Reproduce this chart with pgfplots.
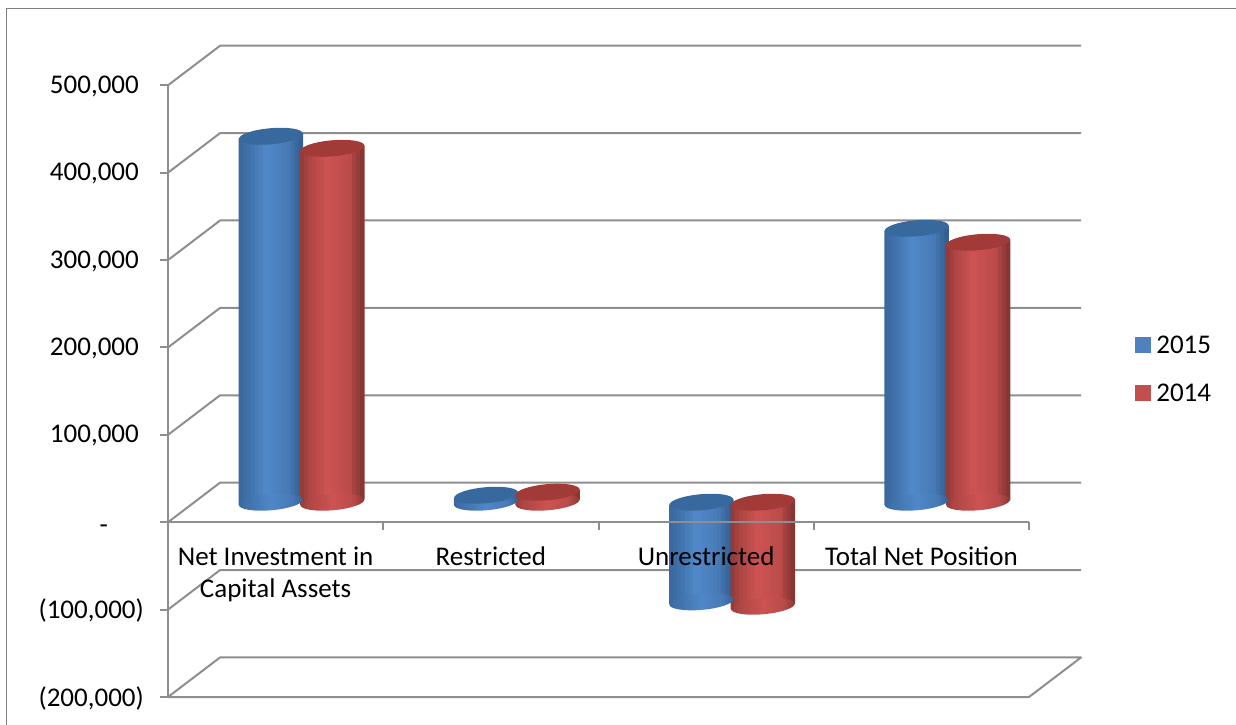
\documentclass[border=0pt]{standalone}
\usepackage{pgfplots}
\usepackage{pgfplotstable}
\usepackage{fontspec}
\setmainfont{Carlito}
\pgfplotsset{compat=1.18}
\definecolor{wall}{HTML}{8E8E8E}
\definecolor{bl}{HTML}{4F81BD}
\definecolor{rd}{HTML}{C0504D}
\definecolor{capblue}{HTML}{37699F}
\definecolor{capred}{HTML}{A23A38}
\definecolor{ba}{HTML}{3A699E}\definecolor{bb}{HTML}{3F71AA}\definecolor{bc}{HTML}{5087C8}\definecolor{bd}{HTML}{477AB5}\definecolor{be}{HTML}{356092}
\definecolor{ra}{HTML}{953B39}\definecolor{rb}{HTML}{AD4644}\definecolor{rc}{HTML}{CC5351}\definecolor{rd2}{HTML}{BA4B49}\definecolor{re}{HTML}{883634}
\pgfdeclarehorizontalshading{cylblue}{100bp}{color(0bp)=(ba);color(25bp)=(ba);color(31bp)=(bb);color(50bp)=(bc);color(66bp)=(bd);color(75bp)=(be);color(100bp)=(be)}
\pgfdeclarehorizontalshading{cylred}{100bp}{color(0bp)=(ra);color(25bp)=(ra);color(31bp)=(rb);color(50bp)=(rc);color(66bp)=(rd2);color(75bp)=(re);color(100bp)=(re)}
\newcommand{\capellipse}{\pgfpathellipse{\pgfpointorigin}{\pgfqpoint{32pt}{2.8pt}}{\pgfqpoint{-0.7pt}{8pt}}}
\pgfdeclareplotmark{topblue}{\capellipse\pgfsetfillcolor{capblue}\pgfusepathqfill}
\pgfdeclareplotmark{topred}{\capellipse\pgfsetfillcolor{capred}\pgfusepathqfill}
\pgfdeclareplotmark{lowblue}{\capellipse\pgfshadepath{cylblue}{0}\pgfusepath{discard}}
\pgfdeclareplotmark{lowred}{\capellipse\pgfshadepath{cylred}{0}\pgfusepath{discard}}
\pgfplotstableread{
cat val top low
0 418800 418800 0
1 8000 8000 0
2 -114000 0 -114000
3 313500 313500 0
}\tabfifteen
\pgfplotstableread{
cat val top low
0 405000 405000 0
1 11500 11500 0
2 -119000 0 -119000
3 297500 297500 0
}\tabfourteen
% one vertical strip of a cylinder's body: table, x position in the group, shift, colour
\newcommand{\strip}[4]{\addplot[ybar,bar width=4.4pt,bar shift=#3pt,draw=none,fill={#4},xshift=#2pt,yshift={20pt+#3*0.0875pt}] table[x=cat,y=val] {#1};}
\newcommand{\body}[7]{%
 \strip{#1}{#2}{-30}{#3}\strip{#1}{#2}{-26}{#3!50!#4}\strip{#1}{#2}{-22}{#4}\strip{#1}{#2}{-18}{#4!75!#5}%
 \strip{#1}{#2}{-14}{#4!50!#5}\strip{#1}{#2}{-10}{#4!25!#5}\strip{#1}{#2}{-6}{#5}\strip{#1}{#2}{-2}{#5}%
 \strip{#1}{#2}{2}{#5!80!#6}\strip{#1}{#2}{6}{#5!60!#6}\strip{#1}{#2}{10}{#5!40!#6}\strip{#1}{#2}{14}{#5!20!#6}%
 \strip{#1}{#2}{18}{#6}\strip{#1}{#2}{22}{#6!60!#7}\strip{#1}{#2}{26}{#6!30!#7}\strip{#1}{#2}{30}{#7}}
\pgfplotsset{common/.style={
  at={(168pt,28pt)},anchor=south west,
  width=861pt,height=611.7pt,scale only axis,
  xmin=-0.5,xmax=3.5,ymin=-200000,ymax=500000,clip=false}}
\tikzset{wallline/.style={draw=wall,line width=2pt,line join=round}}
\begin{document}
\begin{tikzpicture}
\useasboundingbox (0,0) rectangle (1236pt,725pt);
\draw[draw=gray,line width=1pt] (6.7pt,0) -- (6.7pt,716.5pt) -- (1236pt,716.5pt);
\begin{axis}[common,hide axis]
% walls: from the front edge back to the rear plane, then along it
\addplot[wallline] coordinates {(-0.5,500000)(-0.258,545300)(3.742,545300)};
\addplot[wallline] coordinates {(-0.5,400000)(-0.258,445300)(3.742,445300)};
\addplot[wallline] coordinates {(-0.5,300000)(-0.258,345300)(3.742,345300)};
\addplot[wallline] coordinates {(-0.5,200000)(-0.258,245300)(3.742,245300)};
\addplot[wallline] coordinates {(-0.5,100000)(-0.258,145300)(3.742,145300)};
\addplot[wallline] coordinates {(-0.5,0)(-0.258,45300)(3.742,45300)};
\addplot[wallline] coordinates {(-0.5,-100000)(-0.258,-54700)(3.742,-54700)};
\addplot[wallline] coordinates {(-0.5,-200000)(-0.258,-154700)(3.742,-154700)(3.5,-200000)(-0.5,-200000)};
% 2015
\addplot[only marks,mark=lowblue,xshift=-4.75pt,yshift=20pt] table[x=cat,y=low] {\tabfifteen};
\body{\tabfifteen}{-4.75}{ba}{bb}{bc}{bd}{be}
\addplot[only marks,mark=topblue,xshift=-4.75pt,yshift=20pt] table[x=cat,y=top] {\tabfifteen};
% 2014
\addplot[only marks,mark=lowred,xshift=56.75pt,yshift=20pt] table[x=cat,y=low] {\tabfourteen};
\body{\tabfourteen}{56.75}{ra}{rb}{rc}{rd2}{re}
\addplot[only marks,mark=topred,xshift=56.75pt,yshift=20pt] table[x=cat,y=top] {\tabfourteen};
\end{axis}
\begin{axis}[common,
  axis x line*=middle,axis y line*=left,
  scaled y ticks=false,
  hide obscured x ticks=false,hide obscured y ticks=false,
  axis line style={draw=wall,line width=2pt},
  tick align=outside,
  major tick length=8pt,minor tick length=8pt,
  every tick/.style={draw=wall,line width=2pt},
  ytick={-200000,-100000,0,100000,200000,300000,400000,500000},
  yticklabels={{(200,000)},{(100,000)},{\raisebox{-20pt}{-}\hspace{36pt}\mbox{}},{100,000\hspace{5pt}\mbox{}},{200,000\hspace{5pt}\mbox{}},{300,000\hspace{5pt}\mbox{}},{400,000\hspace{5pt}\mbox{}},{500,000\hspace{5pt}\mbox{}}},
  yticklabel style={inner sep=0pt,xshift=-16pt,yshift=-1pt,font=\fontsize{27}{32}\selectfont},
  xtick={0,1,2,3},
  major x tick style={draw=none},
  minor xtick={-0.5,0.5,1.5,2.5,3.5},
  xticklabels={{Net Investment in\\Capital Assets},Restricted,Unrestricted,Total Net Position},
  xticklabel style={align=center,inner sep=0pt,yshift=-16pt,font=\fontsize{27}{32}\selectfont},
  legend style={draw=none,fill=none,at={(1.123,0.536)},anchor=west,inner sep=0pt,outer sep=0pt,
    row sep=29pt,column sep=6pt,font=\fontsize{27}{32}\selectfont,
    nodes={inner sep=0pt}},
  legend cell align=left,
  legend image code/.code={\fill[#1] (0pt,-7.5pt) rectangle (15pt,7.5pt);},
]
\addlegendimage{bl}
\addlegendentry{2015}
\addlegendimage{rd}
\addlegendentry{2014}
\end{axis}
\end{tikzpicture}
\end{document}
